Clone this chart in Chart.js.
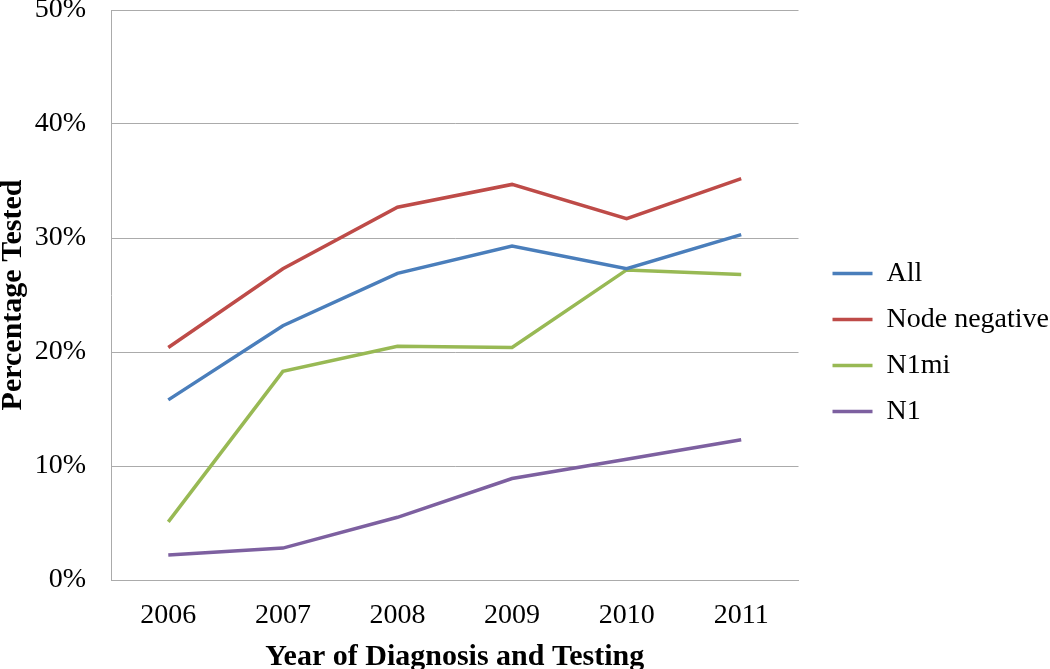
<!DOCTYPE html>
<html>
<head>
<meta charset="utf-8">
<script src="https://cdn.jsdelivr.net/npm/chart.js@4"></script>
<style>
  html, body { margin: 0; padding: 0; background: #fff; }
  #wrap { width: 1050px; height: 669px; }
</style>
</head>
<body>
<div id="wrap"><canvas id="chart" width="1050" height="669"></canvas></div>
<script>
// values, in percent
const years = ["2006", "2007", "2008", "2009", "2010", "2011"];
const allPts = [15.8, 22.3, 26.9, 29.3, 27.3, 30.3];
const nodeNegative = [20.4, 27.3, 32.7, 34.7, 31.7, 35.2];
const n1mi = [5.1, 18.3, 20.5, 20.4, 27.2, 26.8];
const n1 = [2.2, 2.8, 5.5, 8.9, 10.6, 12.3];

const serif = "'Liberation Serif', 'Times New Roman', serif";
const gridGrey = "#ababab";

// push the legend a bit away from the plot (excel leaves a wider gap)
const legendShift = { x: 16, y: 0 };
const LegendBox = Chart.Legend._element;
const baseLegendDraw = LegendBox.prototype.draw;
LegendBox.prototype.draw = function () {
  this.ctx.save();
  this.ctx.translate(legendShift.x, legendShift.y);
  baseLegendDraw.call(this);
  this.ctx.restore();
};

function line(label, data, color) {
  return {
    label: label,
    data: data,
    borderColor: color,
    backgroundColor: color,
    borderWidth: 3.5,
    pointRadius: 0,
    tension: 0,
    fill: false,
  };
}

const ctx = document.getElementById("chart").getContext("2d");
new Chart(ctx, {
  type: "line",
  data: {
    labels: years,
    datasets: [
      line("All", allPts, "#4a7ebb"),
      line("Node negative", nodeNegative, "#be4b48"),
      line("N1mi", n1mi, "#98b954"),
      line("N1", n1, "#7d60a0"),
    ],
  },
  options: {
    responsive: false,
    animation: false,
    layout: { padding: { top: 10, right: 7, bottom: -6, left: 0 } },
    plugins: {
      tooltip: { enabled: false },
      legend: {
        position: "right",
        labels: {
          usePointStyle: true,
          pointStyle: "line",
          pointStyleWidth: 40,
          padding: 18,
          color: "#000",
          font: { family: serif, size: 28 },
        },
      },
    },
    scales: {
      x: {
        offset: true,
        afterFit: (scale) => {
          scale.height = 95;
        },
        grid: { display: false, drawTicks: false },
        border: { color: gridGrey },
        ticks: { color: "#000", padding: 19, font: { family: serif, size: 28 } },
        title: {
          display: true,
          text: "Year of Diagnosis and Testing",
          color: "#000",
          padding: { top: 0, bottom: 0 },
          font: { family: serif, size: 30, weight: "bold" },
        },
      },
      y: {
        min: 0,
        max: 50,
        afterFit: (scale) => {
          scale.width = 111;
          scale.paddingTop = 0;
          scale.paddingBottom = 0;
        },
        grid: { color: gridGrey, drawTicks: false },
        border: { color: gridGrey },
        ticks: {
          stepSize: 10,
          color: "#000",
          padding: 25,
          font: { family: serif, size: 28 },
          callback: (v) => v + "%",
        },
        title: {
          display: true,
          text: "Percentage Tested",
          color: "#000",
          padding: { top: -5, bottom: 0 },
          font: { family: serif, size: 30, weight: "bold" },
        },
      },
    },
  },
});
</script>
</body>
</html>
